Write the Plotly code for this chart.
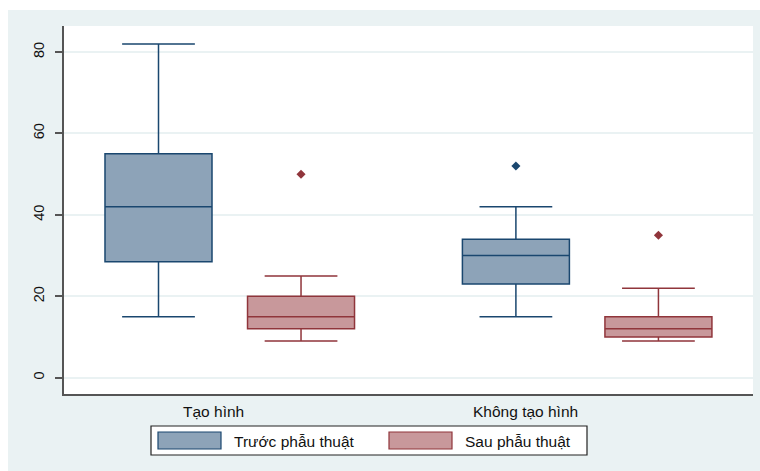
import plotly.graph_objects as go

# ---- data -------------------------------------------------------------
groups = ["Tạo hình", "Không tạo hình"]
series = ["Trước phẫu thuật", "Sau phẫu thuật"]

lower_before = [15, 15]
q1_before = [28.5, 23]
median_before = [42, 30]
q3_before = [55, 34]
upper_before = [82, 42]
outliers_before = [[], [52]]

lower_after = [9, 9]
q1_after = [12, 10]
median_after = [15, 12]
q3_after = [20, 15]
upper_after = [25, 22]
outliers_after = [[50], [35]]

y_ticks = [0, 20, 40, 60, 80]

# ---- styling ----------------------------------------------------------
W, H = 760, 471
PLOT_L, PLOT_R, PLOT_T, PLOT_B = 64, 753, 26, 394
BG = "#EAF2F3"
FONT = "Liberation Sans, Arial, sans-serif"
line_cols = ["#1A476F", "#90353B"]
fill_cols = ["#8DA3B8", "#C8989B"]
offset = 0.1994
box_w = 0.2994


def px_x(p):
    return (p - PLOT_L) / (PLOT_R - PLOT_L)


def px_y(p):
    return (PLOT_B - p) / (PLOT_B - PLOT_T)


stats = [
    (lower_before, q1_before, median_before, q3_before, upper_before, outliers_before),
    (lower_after, q1_after, median_after, q3_after, upper_after, outliers_after),
]

fig = go.Figure()
for s, (lo, q1, med, q3, up, outs) in enumerate(stats):
    shift = -offset if s == 0 else offset
    pos = [g + shift for g in range(len(groups))]
    fig.add_trace(go.Box(
        x=pos, q1=q1, median=med, q3=q3, lowerfence=lo, upperfence=up,
        name=series[s], width=box_w, whiskerwidth=0.68,
        line=dict(color=line_cols[s], width=1.5), fillcolor=fill_cols[s],
        boxpoints=False, showlegend=False, hoverinfo="skip",
    ))
    ox, oy = [], []
    for g, vals in enumerate(outs):
        for v in vals:
            ox.append(g + shift)
            oy.append(v)
    fig.add_trace(go.Scatter(
        x=ox, y=oy, mode="markers", showlegend=False, hoverinfo="skip",
        marker=dict(symbol="diamond", size=7, color=line_cols[s]),
    ))

shapes = [
    # white strips at the top and left edges of the page
    dict(type="rect", xref="paper", yref="paper", x0=px_x(0), x1=px_x(W),
         y0=px_y(0), y1=px_y(10), fillcolor="white", line_width=0, layer="below"),
    dict(type="rect", xref="paper", yref="paper", x0=px_x(0), x1=px_x(8),
         y0=px_y(0), y1=px_y(H), fillcolor="white", line_width=0, layer="below"),
    # legend frame
    dict(type="rect", xref="paper", yref="paper", x0=px_x(151), x1=px_x(587),
         y0=px_y(455), y1=px_y(426), fillcolor="white",
         line=dict(color="#222222", width=1.2)),
]
annotations = []
swatches = [(158, 221, 232), (389, 452, 463)]
for s, (sx0, sx1, tx) in enumerate(swatches):
    shapes.append(dict(type="rect", xref="paper", yref="paper",
                       x0=px_x(sx0), x1=px_x(sx1), y0=px_y(449), y1=px_y(432),
                       fillcolor=fill_cols[s], line=dict(color=line_cols[s], width=1.2)))
    annotations.append(dict(xref="paper", yref="paper", x=px_x(tx), y=px_y(441),
                            text=series[s], showarrow=False, xanchor="left",
                            yanchor="middle", font=dict(size=15.5, color="#111111", family=FONT)))

label_px = [213, 525]
for g, name in enumerate(groups):
    annotations.append(dict(xref="paper", yref="paper", x=px_x(label_px[g]), y=px_y(411),
                            text=name, showarrow=False, xanchor="center", yanchor="middle",
                            font=dict(size=15.5, color="#111111", family=FONT)))

fig.update_layout(
    width=W, height=H,
    margin=dict(l=PLOT_L, r=W - PLOT_R, t=PLOT_T, b=H - PLOT_B, pad=0),
    paper_bgcolor=BG, plot_bgcolor="white",
    font=dict(family=FONT, color="#111111"),
    shapes=shapes, annotations=annotations,
    xaxis=dict(range=[-0.4638, 1.464], showticklabels=False, ticks="",
               showgrid=False, zeroline=False, showline=True,
               linecolor="#555555", linewidth=2),
    yaxis=dict(range=[-4.0, 86.4], tickvals=y_ticks, tickangle=-90,
               ticks="outside", ticklen=7, tickcolor="#555555", tickwidth=1.5,
               ticklabelstandoff=5,
               tickfont=dict(size=14.5, color="#111111", family=FONT),
               showgrid=True, gridcolor="#EAF2F3", gridwidth=1.5,
               zeroline=False, showline=True, linecolor="#555555", linewidth=1.5),
)

fig.write_html("out.html")
